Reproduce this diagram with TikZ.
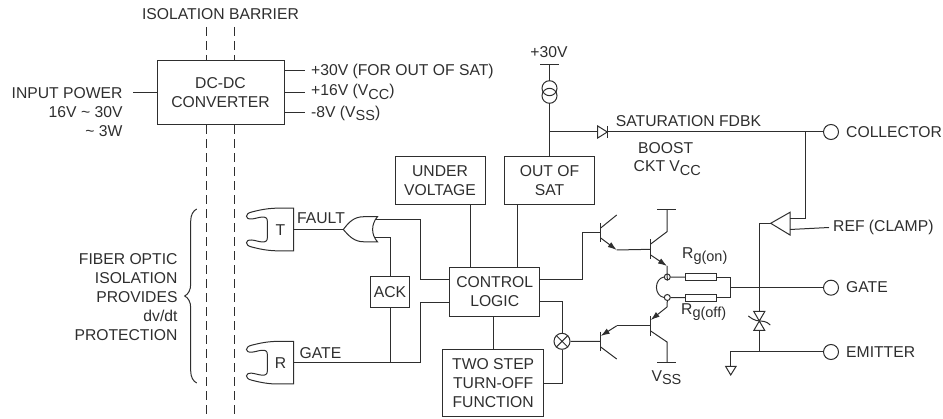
\documentclass[tikz,border=0pt]{standalone}
\usepackage{fontspec}
\setmainfont{Liberation Sans}
\usetikzlibrary{arrows.meta,positioning,decorations.pathreplacing}
\definecolor{ink}{HTML}{2E2E2E}
\newcommand{\lowsub}[1]{\raisebox{-3.5pt}{\fontsize{14.5}{14.5}\selectfont #1}}

\begin{document}
\begin{tikzpicture}[
		x=1pt, y=-1pt,
		every node/.style = {text=ink, inner sep=0pt, font=\fontsize{15.7}{19}\selectfont},
		wire/.style   = {draw=ink, line width=1pt},
		box/.style    = {draw=ink, line width=1pt, align=center},
		label/.style  = {anchor=west},
		barrier/.style = {draw=ink, line width=1pt, dash pattern=on 9pt off 5pt},
		port/.style   = {draw=ink, line width=1pt, circle, minimum size=15pt},
		dot/.style    = {draw=ink, line width=1pt, circle, minimum size=6pt},
		res/.style    = {draw=ink, line width=1pt, minimum width=31pt, minimum height=7pt},
		>={Latex[length=9pt,width=6pt]}]
		
		\useasboundingbox (0,0) rectangle (943,419);
		
		% isolation barrier and the converter
		\node (isotxt) at (220.5,14.5) {ISOLATION BARRIER};
		\node[box, minimum width=127pt, minimum height=64pt] (dc) at (220.5,93) {DC-DC\\CONVERTER};
		\coordinate (bar1) at (206.5,27);
		\coordinate (bar2) at (234,27);
		\coordinate (pageend) at (0,419);
		\foreach \value in {1,2}
		\draw[barrier] (bar\value) -- (bar\value |- dc.north) (bar\value |- dc.south) -- (bar\value |- pageend);
		
		\node[anchor=east, align=right] (inp) at (122.7,111.7) {INPUT POWER\\16V \textasciitilde{} 30V\\\textasciitilde{} 3W};
		\coordinate (inend) at (133,93);
		\draw[wire] (inend) -- (inend -| dc.west);
		
		% converter outputs
		\node[label] (o30) at (311,71) {+30V (FOR OUT OF SAT)};
		\node[label] (o16) at (311,92) {+16V (V\lowsub{CC})};
		\node[label] (o8) at (311,113.5) {-8V (V\lowsub{SS})};
		\foreach \y in {71,93,113}
		\draw[wire] (dc.east |- 0,\y) -- (305,\y);
		
		% fiber optic side
		\node[anchor=east, align=right] (fiber) at (177.7,297) {FIBER OPTIC\\ISOLATION\\PROVIDES\\dv/dt\\PROTECTION};
		\coordinate (brbot) at (196.7,383);
		\coordinate (brtop) at (196.7,209);
		\draw[wire, decorate, decoration={brace, amplitude=12pt}] (brbot) -- (brtop);
		
		\coordinate (tx) at (293.7,229.5);
		\coordinate (rx) at (293.7,362.7);
		\foreach \value in {tx,rx}
		\draw[wire, shift={(\value)}] (0,-21.3) -- (-18,-21.3) .. controls (-28,-21) and (-36,-19) .. (-42,-17.5)
			.. controls (-49,-16) and (-49,-10) .. (-42,-10.5) .. controls (-36,-11) and (-26.3,-16) .. (-26.3,-8)
			-- (-26.3,8) .. controls (-26.3,16) and (-36,11) .. (-42,10.5) .. controls (-49,10) and (-49,16) .. (-42,17.5)
			.. controls (-36,19) and (-28,21) .. (-18,21.3) -- (0,21.3) -- cycle;
		\node (ttxt) at (280.5,230) {T};
		\node (rtxt) at (280.5,363) {R};
		\node[label] (fault) at (297,218.5) {FAULT};
		\node[label] (gatein) at (299.5,353) {GATE};
		
		% or gate
		\coordinate (ortip) at (343.3,229.5);
		\draw[wire] (ortip) .. controls (349,222) and (354,216.7) .. (364,216.7) -- (377.5,216.7)
			.. controls (371,224) and (371,235) .. (377.5,241.8) -- (364,241.8)
			.. controls (354,241.8) and (349,236) .. (ortip);
		\draw[wire] (tx) -- (ortip);
		
		% main blocks
		\node[box, minimum width=90pt, minimum height=48pt] (uv) at (440,181) {UNDER\\VOLTAGE};
		\node[box, minimum width=90pt, minimum height=48pt] (oos) at (549.5,181) {OUT OF\\SAT};
		\node[box, minimum width=89.5pt, minimum height=48.5pt] (ctrl) at (494.7,292) {CONTROL\\LOGIC};
		\node[box, minimum width=101pt, minimum height=66.5pt] (twostep) at (493.2,383.2) {TWO STEP\\TURN-OFF\\FUNCTION};
		\node[box, minimum width=39.5pt, minimum height=30.5pt] (ack) at (390,292) {ACK};
		
		\draw[wire] (uv.south -| 470.7,0) -- (ctrl.north -| 470.7,0);
		\draw[wire] (oos.south -| 517.7,0) -- (ctrl.north -| 517.7,0);
		\draw[wire] (ctrl.south -| twostep.north) -- (twostep.north);
		
		% fault and gate wires
		\coordinate (orup) at (374.5,220);
		\coordinate (orlo) at (374.5,237.3);
		\coordinate (bus) at (420,280);
		\coordinate (bus2) at (420,302.3);
		\draw[wire] (orup) -| (bus) -- (bus -| ctrl.west);
		\draw[wire] (orlo) -| (ack.north);
		\draw[wire] (ack.south) -- (ack.south |- rx);
		\draw[wire] (rx) -| (bus2) -- (bus2 -| ctrl.west);
		
		% sat sense
		\node (plus30) at (549,52) {+30V};
		\coordinate (railtop) at (549.5,64.3);
		\draw[wire] (540,64.3) -- (558.5,64.3);
		\node[port] (cs1) at (549.5,88.2) {};
		\node[port] (cs2) at (549.5,95.8) {};
		\coordinate (satj) at (549.5,132);
		\draw[wire] (railtop) -- (cs1.north) (cs2.south) -- (oos.north);
		
		\node[label] (satfb) at (615.7,121) {SATURATION FDBK};
		\node (boost) at (665.7,148) {BOOST};
		\node[label] (ckt) at (633.5,168) {CKT V\lowsub{CC}};
		\coordinate (dioa) at (597.7,132);
		\coordinate (diok) at (607.3,132);
		\draw[wire] (satj) -- (dioa);
		\draw[wire] (597.7,126) -- (diok) -- (597.7,138) -- cycle;
		\draw[wire] (607.3,126) -- (607.3,138);
		
		% terminals on the right
		\node[port] (col) at (831,132) {};
		\node[port] (gat) at (831,287.7) {};
		\node[port] (emi) at (831,352) {};
		\node[label] (coltxt) at (846,132) {COLLECTOR};
		\node[label] (gattxt) at (846,287) {GATE};
		\node[label] (emitxt) at (846,352) {EMITTER};
		\node[label] (reftxt) at (833,227.5) {REF (CLAMP)};
		\draw[wire] (diok) -- (col.west);
		
		% clamp comparator
		\coordinate (cmptip) at (770.7,223.3);
		\coordinate (cmpup) at (790,218.3);
		\coordinate (cmpdn) at (790,229.5);
		\coordinate (colj) at (805,132);
		\draw[wire] (cmptip) -- (790,212.3) -- (790,235) -- cycle;
		\draw[wire] (colj) |- (cmpup);
		\draw[wire] (cmpdn) -- (reftxt.west -| 829,0);
		
		% clamp zener
		\coordinate (zen) at (759.3,321);
		\coordinate (gnd) at (730.7,352);
		\draw[wire] (cmptip) -| (759.3,311.5);
		\draw[wire] (759.3,330.5) -- (zen |- gnd);
		\draw[wire, shift={(zen)}] (-5.5,-9.5) -- (5.5,-9.5) -- (-5.5,9.5) -- (5.5,9.5) -- cycle;
		\draw[wire, shift={(zen)}] (-11,-5) .. controls (-8,-3) and (-6,-1) .. (-3,-.5) -- (5,.5) .. controls (7,1) and (9,2) .. (11,4);
		\draw[wire] (730.7,375) -- (725.7,366.5) -- (736,366.5) -- cycle;
		\draw[wire] (730.7,366.5) |- (emi.west);
		
		% transistors, bars first
		\foreach \name/\x/\y in {qa/600.7/232.7, qb/650.7/249.3, qc/600.7/341.5, qd/650.7/325.8} {
			\coordinate (\name) at (\x,\y);
			\draw[wire, line width=1.3pt] (\x,\y-9.8) -- (\x,\y+9.8);
		}
		\node[box, circle, minimum size=16pt] (mul) at (562,341.3) {};
		\draw[wire] (mul.45) -- (mul.225) (mul.135) -- (mul.315);
		\draw[wire] (ctrl.east |- 0,280) -| (582.7,232.7) -- (qa);
		\draw[wire] (ctrl.east |- 0,302) -| (mul.north);
		\draw[wire] (twostep.east |- 0,384) -| (mul.south);
		\draw[wire] (mul.east) -- (qc);
		
		\draw[wire] (600.7,228) -- (616.7,215);
		\draw[wire, ->] (600.7,238) -- (616.7,250);
		\draw[wire] (616.7,250) -- (qb);
		\draw[wire] (600.7,347) -- (616.7,359);
		\draw[wire, ->] (616.7,325.8) -- (600.7,336);
		\draw[wire] (qd) -- (616.7,325.8);
		
		% driver stage and gate resistors
		\node[dot] (swa) at (667.3,277) {};
		\node[dot] (swb) at (667.3,297.5) {};
		\node[res] (ron) at (701.2,277.3) {};
		\node[res] (roff) at (701.2,297.7) {};
		\node[label] (rontxt) at (682,256) {R\lowsub{g(on)}};
		\node[label] (rofftxt) at (681,312) {R\lowsub{g(off)}};
		\draw[wire] (swa) -- (ron) (swb) -- (roff);
		\draw[wire] (swa.west) .. controls (654,279) and (654,295.5) .. (swb.west);
		
		\draw[wire] (650.7,244) -- (667,231.7) -- (667,210);
		\draw[wire] (657.3,210) -- (675.7,210);
		\draw[wire, ->] (650.7,255) -- (667,266);
		\draw[wire] (667,266) -- (swa.south);
		\draw[wire, ->] (667,307) -- (650.7,320);
		\draw[wire] (swb.south) -- (667,307);
		\draw[wire] (650.7,331) -- (667,342) -- (667,362.3);
		\draw[wire] (657.3,362.3) -- (675.7,362.3);
		\node (vss) at (666.5,377.5) {V\lowsub{SS}};
		
		\draw[wire] (ron.east) -- (730.7,277.3) -- (730.7,297.7) -- (roff.east);
		\draw[wire] (730.7,287.7) -- (gat.west);
		
	\end{tikzpicture}
\end{document}
